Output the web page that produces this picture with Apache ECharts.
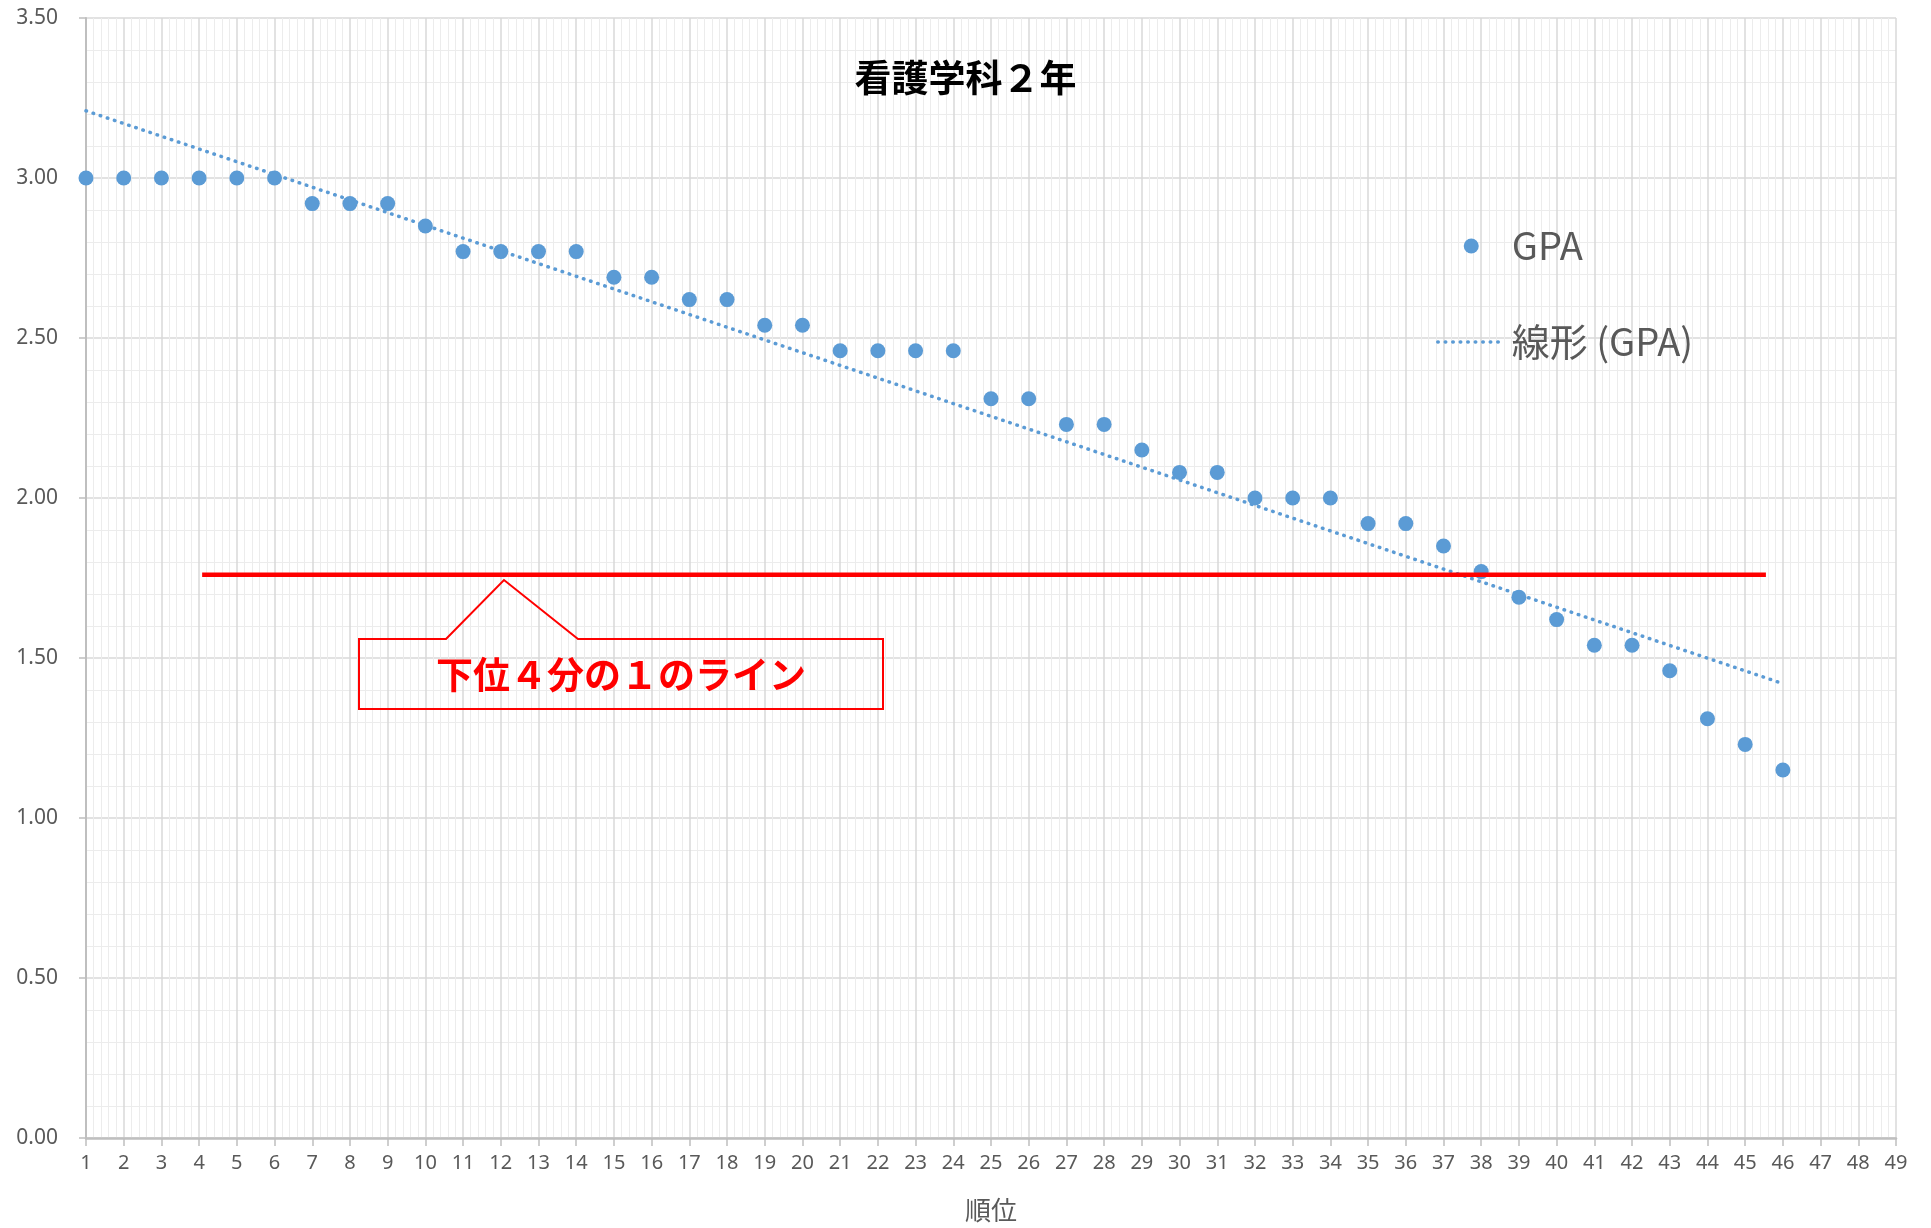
<!DOCTYPE html>
<html>
<head>
<meta charset="utf-8">
<script src="https://cdn.jsdelivr.net/npm/echarts@6/dist/echarts.min.js"></script>
<style>
  html, body { margin: 0; padding: 0; background: #fff; }
  #chart { width: 1931px; height: 1228px; }
</style>
</head>
<body>
<div id="chart"></div>
<script>
// 順位 / GPA
const ranks = [1, 2, 3, 4, 5, 6, 7, 8, 9, 10, 11, 12, 13, 14, 15, 16, 17, 18, 19, 20, 21, 22, 23,
  24, 25, 26, 27, 28, 29, 30, 31, 32, 33, 34, 35, 36, 37, 38, 39, 40, 41, 42, 43, 44, 45, 46]
const gpa = [3.00, 3.00, 3.00, 3.00, 3.00, 3.00, 2.92, 2.92, 2.92, 2.85, 2.77, 2.77, 2.77, 2.77,
  2.69, 2.69, 2.62, 2.62, 2.54, 2.54, 2.46, 2.46, 2.46, 2.46, 2.31, 2.31, 2.23, 2.23, 2.15,
  2.08, 2.08, 2.00, 2.00, 2.00, 1.92, 1.92, 1.85, 1.77, 1.69, 1.62, 1.54, 1.54, 1.46, 1.31,
  1.23, 1.15]
// 線形 (GPA) の両端 (読み取り値)
const trendX = [1, 46]
const trendY = [3.21, 1.42]
// 下位４分の１のライン
const quarterX = [4.08, 45.55]
const quarterY = 1.76

const txtColor = '#595959'
const blue = '#5b9bd5'

let chart = echarts.init(document.getElementById('chart'))

let option = {
  animation: false,
  title: {
    text: '看護学科２年',
    left: 'center',
    top: 54,
    textStyle: {
      fontFamily: 'Noto Sans CJK JP',
      fontSize: 37,
      fontWeight: 'bold',
      color: '#000'
    }
  },
  legend: {
    orient: 'vertical',
    left: 1431,
    top: 222,
    itemWidth: 67,
    itemHeight: 15,
    itemGap: 58,
    data: [
      {name: 'GPA', icon: 'circle'},
      {
        name: '線形 (GPA)',
        itemStyle: {opacity: 0},
        lineStyle: {color: blue, width: 3.5, type: [0.5, 7], cap: 'round'}
      }
    ],
    textStyle: {
      fontFamily: 'Noto Sans CJK JP',
      fontSize: 38,
      color: txtColor,
      padding: [0, 0, 0, 2]
    }
  },
  grid: {
    left: 86,
    right: 35,
    top: 18,
    bottom: 90
  },
  xAxis: {
    type: 'value',
    min: 1,
    max: 49,
    interval: 1,
    name: '順位',
    nameLocation: 'middle',
    nameGap: 59,
    nameTextStyle: {
      fontFamily: 'Noto Sans CJK JP',
      fontSize: 26,
      color: txtColor
    },
    axisLine: {lineStyle: {color: '#bfbfbf', width: 2.5}},
    axisTick: {show: true, length: 8, lineStyle: {color: '#bfbfbf', width: 1.5}},
    axisLabel: {
      margin: 15,
      fontFamily: 'Noto Sans',
      fontSize: 20,
      color: txtColor
    },
    splitLine: {show: true, lineStyle: {color: '#d9d9d9', width: 1.5}},
    minorTick: {show: false, splitNumber: 5},
    minorSplitLine: {show: true, lineStyle: {color: '#ececec', width: 1}}
  },
  yAxis: {
    type: 'value',
    min: 0,
    max: 3.5,
    interval: 0.5,
    axisLine: {show: true, lineStyle: {color: '#bfbfbf', width: 2}},
    axisTick: {show: true, length: 7, lineStyle: {color: '#bfbfbf', width: 1.5}},
    axisLabel: {
      margin: 28,
      fontFamily: 'Noto Sans',
      fontSize: 21,
      color: txtColor,
      formatter: v => v.toFixed(2)
    },
    splitLine: {show: true, lineStyle: {color: '#d9d9d9', width: 1.5}},
    minorTick: {show: false, splitNumber: 5},
    minorSplitLine: {show: true, lineStyle: {color: '#ececec', width: 1}}
  },
  series: [
    {
      name: '線形 (GPA)',
      type: 'line',
      symbol: 'none',
      z: 3,
      lineStyle: {color: blue, width: 3.5, type: [0.5, 7], cap: 'round'},
      itemStyle: {color: blue},
      data: trendX.map((x, i) => [x, trendY[i]])
    },
    {
      name: 'GPA',
      type: 'scatter',
      symbolSize: 15,
      z: 4,
      itemStyle: {color: blue, opacity: 1},
      data: ranks.map((r, i) => [r, gpa[i]])
    },
    {
      name: 'quarter',
      type: 'line',
      symbol: 'none',
      z: 5,
      lineStyle: {color: '#ff0000', width: 4.5},
      data: quarterX.map(x => [x, quarterY])
    }
  ],
  graphic: [
    {
      type: 'polygon',
      z: 10,
      shape: {
        points: [[359, 639], [446, 639], [504, 580], [578, 639], [883, 639], [883, 709], [359, 709]]
      },
      style: {fill: 'none', stroke: '#ff0000', lineWidth: 2}
    },
    {
      type: 'text',
      z: 10,
      x: 621,
      y: 675,
      style: {
        text: '下位４分の１のライン',
        fill: '#ff0000',
        font: 'bold 37px "Noto Sans CJK JP"',
        align: 'center',
        verticalAlign: 'middle'
      }
    }
  ]
}
chart.setOption(option)
</script>
</body>
</html>
